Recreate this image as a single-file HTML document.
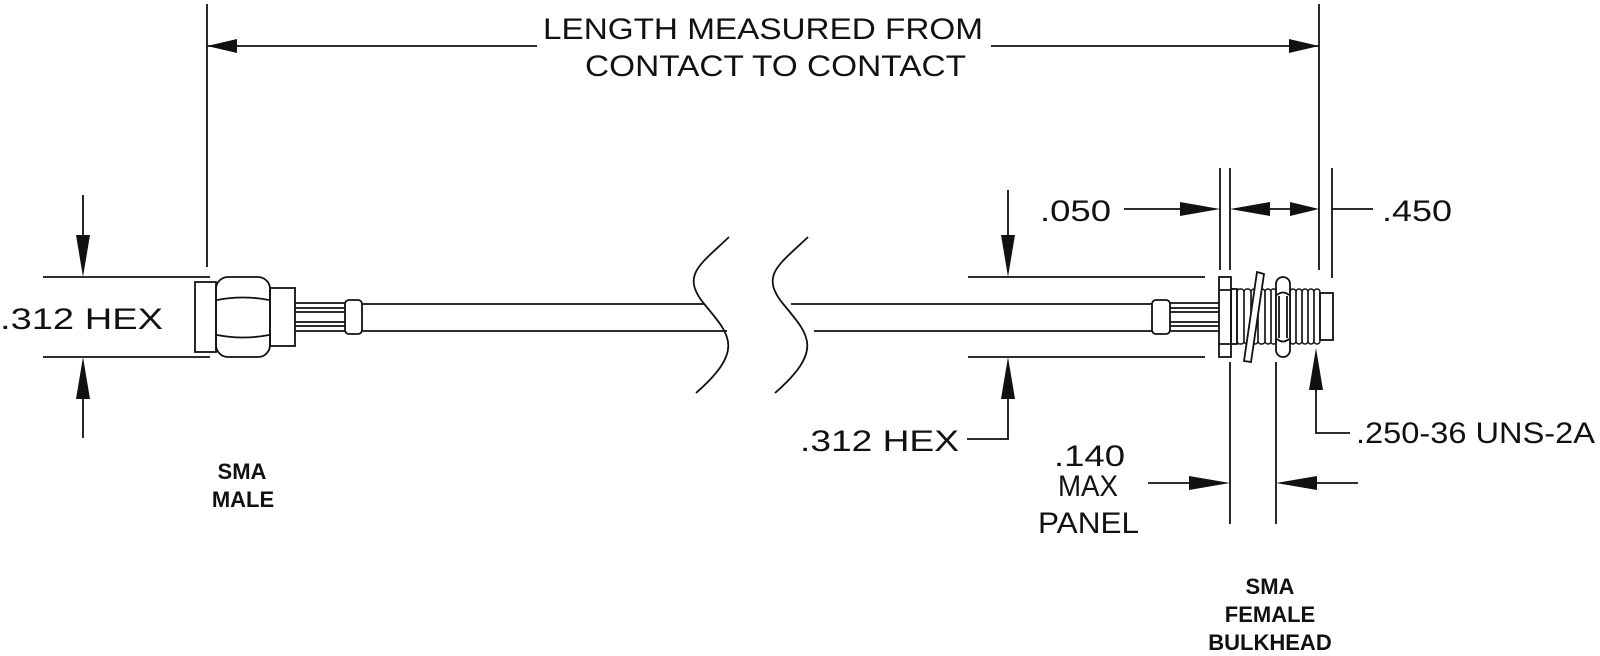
<!DOCTYPE html>
<html><head><meta charset="utf-8"><style>
html,body{margin:0;padding:0;background:#fff;}
svg{display:block;}
text{font-family:"Liberation Sans",sans-serif;fill:#111;}
.t{font-size:30px;}
.b{font-weight:bold;font-size:22px;}
</style></head><body>
<svg width="1600" height="656" viewBox="0 0 1600 656" xmlns="http://www.w3.org/2000/svg">
<g stroke="#111" stroke-width="1.8" fill="none">
<!-- top dimension -->
<line x1="207" y1="4" x2="207" y2="267"/>
<line x1="1319" y1="4" x2="1319" y2="270"/>
<line x1="207" y1="46" x2="537" y2="46"/>
<line x1="991" y1="46" x2="1319" y2="46"/>
<!-- left SMA male dims -->
<line x1="43" y1="277" x2="210" y2="277"/>
<line x1="43" y1="357" x2="210" y2="357"/>
<line x1="83" y1="195" x2="83" y2="240"/>
<line x1="83" y1="395" x2="83" y2="438"/>
<!-- left connector -->
<rect x="195" y="282" width="21" height="70"/>
<rect x="216" y="277" width="54" height="80" rx="12"/>
<path d="M217 300 Q243 295 269 300 M217 335 Q243 340 269 335"/>
<rect x="270" y="288" width="25" height="58"/>
<path d="M295 303 H345 M295 308 H345 M295 312 H345 M295 322 H345 M295 326 H345 M295 331 H345"/>
<rect x="345" y="300" width="17" height="34" rx="4"/>
<path d="M362 304 H704 M362 331 H727"/>
<!-- breaks -->
<path d="M729 237 C700 265 680 275 705 305 C730 335 745 350 696 393"/>
<path d="M808 237 C779 265 759 275 784 305 C809 335 824 350 775 393"/>
<path d="M791 304 H1152 M814 331 H1152"/>
<!-- right ext/dim -->
<line x1="968" y1="277" x2="1205" y2="277"/>
<line x1="968" y1="357" x2="1205" y2="357"/>
<line x1="1008" y1="190" x2="1008" y2="240"/>
<polyline points="1008,395 1008,439 967,439"/>
<!-- right connector -->
<rect x="1152" y="300" width="18" height="34" rx="4"/>
<path d="M1170 303 H1219 M1170 308 H1219 M1170 312 H1219 M1170 322 H1219 M1170 326 H1219 M1170 331 H1219"/>
<rect x="1219" y="277" width="12" height="80"/>
<path d="M1219 290 H1231 M1219 344 H1231"/>
<rect x="1231" y="289" width="6" height="55"/>
<g stroke-width="1.4">
<rect x="1237" y="289" width="7" height="55" rx="3"/>
<rect x="1244" y="289" width="7" height="55" rx="3"/>
<rect x="1251" y="289" width="7" height="55" rx="3"/>
<rect x="1258" y="289" width="7" height="55" rx="3"/>
<rect x="1265" y="289" width="6" height="55" rx="3"/>
<rect x="1271" y="289" width="5" height="55" rx="2"/>
<rect x="1290" y="289" width="6" height="55" rx="3"/>
<rect x="1296" y="289" width="6" height="55" rx="3"/>
<rect x="1302" y="289" width="6" height="55" rx="3"/>
<rect x="1308" y="289" width="6" height="55" rx="3"/>
<rect x="1314" y="289" width="6" height="55" rx="3"/>
</g>
<rect x="1320" y="293" width="13" height="47"/>
<polygon points="1257,272 1264,274 1251,362 1244,361" fill="#fff"/>
<rect x="1276" y="277" width="14" height="80" rx="7" fill="#fff"/>
<path d="M1277 295 Q1283 290 1289 295 M1277 339 Q1283 344 1289 339 M1279 296 V338 M1287 296 V338"/>
<!-- .050/.450 -->
<line x1="1220" y1="168" x2="1220" y2="270"/>
<line x1="1230" y1="168" x2="1230" y2="270"/>
<line x1="1332" y1="168" x2="1332" y2="278"/>
<line x1="1124" y1="209" x2="1185" y2="209"/>
<line x1="1265" y1="209" x2="1295" y2="209"/>
<line x1="1332" y1="209" x2="1373" y2="209"/>
<!-- thread leader -->
<polyline points="1316,388 1316,433 1350,433"/>
<!-- panel -->
<line x1="1230" y1="362" x2="1230" y2="524"/>
<line x1="1276" y1="362" x2="1276" y2="524"/>
<line x1="1148" y1="483" x2="1192" y2="483"/>
<line x1="1315" y1="483" x2="1358" y2="483"/>
</g>
<g fill="#111">
<polygon points="207,46 237,39 237,53"/>
<polygon points="1319,46 1289,39 1289,53"/>
<polygon points="83,277 76,235 90,235"/>
<polygon points="83,357 76,399 90,399"/>
<polygon points="1008,277 1001,235 1015,235"/>
<polygon points="1008,357 1001,399 1015,399"/>
<polygon points="1220,209 1180,202 1180,216"/>
<polygon points="1230,209 1270,202 1270,216"/>
<polygon points="1319,209 1290,202 1290,216"/>
<polygon points="1316,348 1309,390 1323,390"/>
<polygon points="1230,483 1189,476 1189,490"/>
<polygon points="1276,483 1317,476 1317,490"/>
</g>
<text class="t" x="543" y="39" textLength="440" lengthAdjust="spacingAndGlyphs">LENGTH MEASURED FROM</text>
<text class="t" x="585" y="76" textLength="381" lengthAdjust="spacingAndGlyphs">CONTACT TO CONTACT</text>
<text class="t" x="0" y="329" textLength="163" lengthAdjust="spacingAndGlyphs">.312 HEX</text>
<text class="t" x="800" y="451" textLength="159" lengthAdjust="spacingAndGlyphs">.312 HEX</text>
<text class="t" x="1040" y="221" textLength="71" lengthAdjust="spacingAndGlyphs">.050</text>
<text class="t" x="1382" y="221" textLength="70" lengthAdjust="spacingAndGlyphs">.450</text>
<text class="t" x="1356" y="443" textLength="239" lengthAdjust="spacingAndGlyphs">.250-36 UNS-2A</text>
<text class="t" x="1054" y="466" textLength="71" lengthAdjust="spacingAndGlyphs">.140</text>
<text class="t" x="1058" y="496" textLength="60" lengthAdjust="spacingAndGlyphs">MAX</text>
<text class="t" x="1038" y="533" textLength="101" lengthAdjust="spacingAndGlyphs">PANEL</text>
<text class="b" x="242" y="479" text-anchor="middle">SMA</text>
<text class="b" x="243" y="507" text-anchor="middle">MALE</text>
<text class="b" x="1270" y="594" text-anchor="middle">SMA</text>
<text class="b" x="1270" y="622" text-anchor="middle">FEMALE</text>
<text class="b" x="1270" y="650" text-anchor="middle">BULKHEAD</text>
</svg>
</body></html>
